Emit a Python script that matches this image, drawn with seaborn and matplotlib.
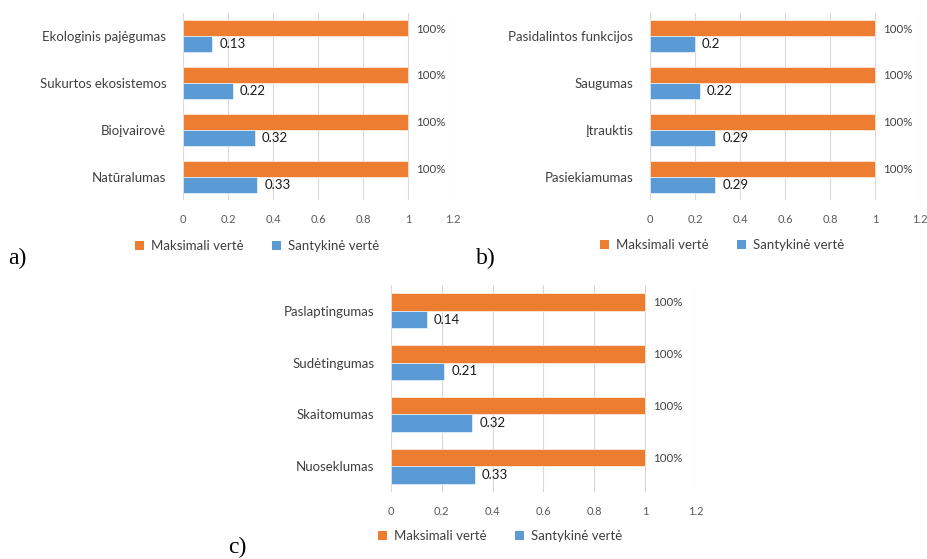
import matplotlib
matplotlib.use("Agg")
import matplotlib.pyplot as plt
import seaborn as sns
import pandas as pd
from matplotlib.patches import Patch

sns.set_theme(style="white")
plt.rcParams["font.family"] = ["Lato", "DejaVu Sans"]

# Panel a) ecological criteria
cats_a = ["Ekologinis pajėgumas", "Sukurtos ekosistemos", "Bioįvairovė", "Natūralumas"]
rel_a = [0.13, 0.22, 0.32, 0.33]
# Panel b) social criteria
cats_b = ["Pasidalintos funkcijos", "Saugumas", "Įtrauktis", "Pasiekiamumas"]
rel_b = [0.2, 0.22, 0.29, 0.29]
# Panel c) perceptual criteria
cats_c = ["Paslaptingumas", "Sudėtingumas", "Skaitomumas", "Nuoseklumas"]
rel_c = [0.14, 0.21, 0.32, 0.33]

max_value = 1.0
series = ["Maksimali vertė", "Santykinė vertė"]
x_ticks = [0, 0.2, 0.4, 0.6, 0.8, 1, 1.2]
x_tick_labels = ["0", "0.2", "0.4", "0.6", "0.8", "1", "1.2"]

ORANGE = "#ED7D31"
BLUE = "#5B9BD5"
palette = {series[0]: ORANGE, series[1]: BLUE}

fig = plt.figure(figsize=(9.28, 5.59), dpi=100)

W, H = 928, 559


def px_axes(x0, y0, x1, y1):
    return fig.add_axes([x0 / W, 1 - y1 / H, (x1 - x0) / W, (y1 - y0) / H])


def panel(ax, cats, rel, label, label_xy, legend_xy):
    df = pd.DataFrame({
        "kriterijus": cats * 2,
        "reikšmė": [max_value] * len(cats) + list(rel),
        "serija": [series[0]] * len(cats) + [series[1]] * len(cats),
    })
    sns.barplot(data=df, y="kriterijus", x="reikšmė", hue="serija",
                hue_order=series, order=cats, palette=palette, orient="h",
                width=0.68, ax=ax, legend=False, saturation=1,
                edgecolor="white", linewidth=0.4, err_kws={"linewidth": 0})
    ax.set_xlim(0, 1.2)
    ax.set_xticks(x_ticks)
    ax.set_xticklabels(x_tick_labels)
    ax.grid(axis="x", color="#D9D9D9", linewidth=0.8)
    ax.set_axisbelow(True)
    for s in ax.spines.values():
        s.set_visible(False)
    ax.set_xlabel("")
    ax.set_ylabel("")
    ax.tick_params(axis="x", length=0, pad=10, labelsize=8, labelcolor="#595959")
    ax.tick_params(axis="y", length=0, pad=12, labelsize=9.5, labelcolor="#404040")

    cont_max, cont_rel = ax.containers[0], ax.containers[1]
    for bar in cont_max:
        ax.annotate(f"{bar.get_width():.0%}",
                    (bar.get_width(), bar.get_y() + bar.get_height() * 0.55),
                    xytext=(6, 0), textcoords="offset points",
                    ha="left", va="center", fontsize=8.3, color="#404040")
    for bar, v in zip(cont_rel, rel):
        ax.annotate(f"{v:g}",
                    (bar.get_width(), bar.get_y() + bar.get_height() * 0.5),
                    xytext=(5, 0), textcoords="offset points",
                    ha="left", va="center", fontsize=9.5, color="#1a1a1a")

    handles = [Patch(facecolor=palette[s], edgecolor="none") for s in series]
    fig.legend(handles, series, loc="center",
               bbox_to_anchor=(legend_xy[0] / W, 1 - legend_xy[1] / H),
               ncol=2, frameon=False, fontsize=9.5, handlelength=0.7,
               handleheight=0.7, handletextpad=0.5, columnspacing=2.2,
               labelcolor="#404040")
    fig.text(label_xy[0] / W, 1 - label_xy[1] / H, label,
             family="Liberation Serif", fontsize=17, color="black",
             ha="left", va="center")


ax_a = px_axes(183, 13, 453, 200)
ax_b = px_axes(650, 13, 920, 200)
ax_c = px_axes(391, 285, 696, 492)

panel(ax_a, cats_a, rel_a, "a)", (8, 258), (257, 246))
panel(ax_b, cats_b, rel_b, "b)", (476, 258), (722, 245))
panel(ax_c, cats_c, rel_c, "c)", (228, 547), (500, 536))

fig.savefig("out.png", dpi=100, facecolor="white")
